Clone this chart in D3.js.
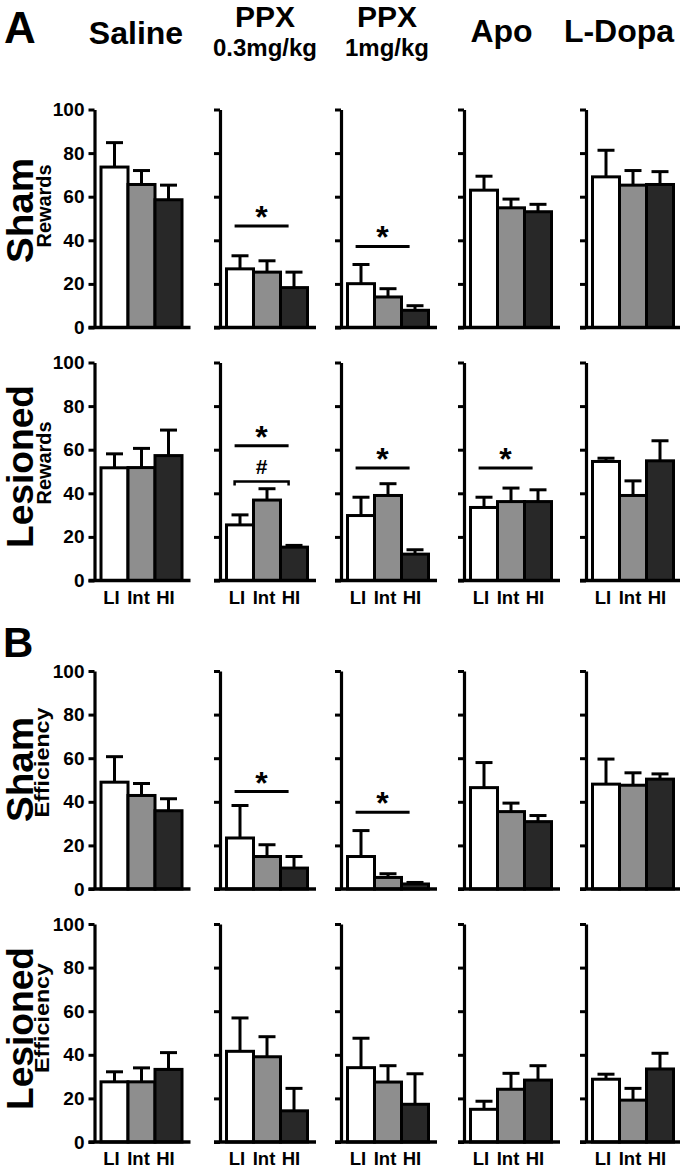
<!DOCTYPE html>
<html><head><meta charset="utf-8">
<script src="https://cdn.jsdelivr.net/npm/d3@7"></script>
<style>
html,body{margin:0;padding:0;background:#fff;}
svg{display:block;font-family:"Liberation Sans",Arial,Helvetica,sans-serif;}
svg text{font-family:"Liberation Sans",Arial,Helvetica,sans-serif;}
</style></head>
<body><div id="chart"></div>
<script>
// ---------- data ----------
const treatments = ["Saline", "PPX", "PPX", "Apo", "L-Dopa"];
const treatmentSub = ["", "0.3mg/kg", "1mg/kg", "", ""];
const levels = ["LI", "Int", "HI"];
const rowGroups = ["Sham", "Lesioned", "Sham", "Lesioned"];
const rowMeasures = ["Rewards", "Rewards", "Efficiency", "Efficiency"];
const yTicks = [0, 20, 40, 60, 80, 100];

// mean values [panel][level]
const shamRewards     = [[73.6,65.6,58.6],[26.9,25.4,18.3],[20.1,14.0,7.9],[63.0,54.9,53.1],[69.1,65.3,65.6]];
const shamRewardsErr  = [[11.2,6.4,6.7],[6.0,5.2,7.1],[8.8,3.8,2.1],[6.4,4.0,3.4],[12.2,6.7,5.9]];
const lesRewards      = [[51.7,51.8,57.3],[25.5,36.9,15.3],[29.8,39.0,12.1],[33.5,36.2,36.2],[54.6,39.0,54.9]];
const lesRewardsErr   = [[6.4,8.8,11.7],[4.6,5.2,0.8],[8.4,5.4,2.0],[4.7,6.2,5.4],[1.5,6.7,9.2]];
const shamEff         = [[49.0,42.9,35.9],[23.4,14.9,9.6],[14.9,5.3,2.3],[46.5,35.5,30.9],[48.1,47.6,50.4]];
const shamEffErr      = [[11.7,5.5,5.5],[14.9,5.4,5.3],[11.9,1.7,0.7],[11.5,3.9,2.8],[11.5,5.7,2.4]];
const lesEff          = [[27.6,27.6,33.3],[41.6,39.1,14.3],[34.1,27.5,17.3],[15.0,24.2,28.4],[28.8,19.2,33.5]];
const lesEffErr       = [[4.6,6.4,7.7],[15.3,9.2,10.3],[13.5,7.5,14.0],[3.7,7.3,6.6],[2.3,5.4,7.2]];

// significance marks: row, panel, level (data units), symbol, kind
const sigRow   = [0, 0, 1, 1, 1, 1, 2, 2];
const sigPanel = [1, 2, 1, 1, 2, 3, 1, 2];
const sigLevel = [46.6, 37.2, 61.8, 45.4, 51.6, 51.6, 44.7, 35.2];
const sigSym   = ["*", "*", "*", "#", "*", "*", "*", "*"];
const sigKind  = ["line","line","line","bracket","line","line","line","line"];

// ---------- layout ----------
const W = 680, H = 1171;
const means = [shamRewards, lesRewards, shamEff, lesEff];
const errs  = [shamRewardsErr, lesRewardsErr, shamEffErr, lesEffErr];
const panelX = [94.5, 220, 341, 464, 586];
const headerX = [136, 265, 387, 501.5, 619];
const rowTop = [109.5, 362.5, 671, 924];
const plotH = 218;
const fills = {LI: "#ffffff", Int: "#8e8e8e", HI: "#282828"};
const FONT = '"Liberation Sans",Arial,Helvetica,sans-serif';

const svg = d3.select("#chart").append("svg").attr("width", W).attr("height", H);

// panel letters
svg.append("text").attr("x", 4).attr("y", 43).style("font-size", "44px").style("font-weight", "bold").text("A");
svg.append("text").attr("x", 3).attr("y", 657).style("font-size", "42px").style("font-weight", "bold").text("B");

// headers
treatments.forEach((t, i) => {
  const hasSub = treatmentSub[i] !== "";
  svg.append("text").attr("x", headerX[i]).attr("y", hasSub ? 27 : (i === 0 ? 44 : 42))
    .attr("text-anchor", "middle").style("font-size", hasSub ? "30px" : "32px").style("font-weight", "bold").text(t);
  if (hasSub) {
    svg.append("text").attr("x", headerX[i]).attr("y", 56)
      .attr("text-anchor", "middle").style("font-size", "24px").style("font-weight", "bold").text(treatmentSub[i]);
  }
});

// row labels
const groupCenter = [210.5, 466.5, 769.5, 1028.5];
const measureCenter = [206, 463, 762.5, 1018];
const groupLen = {Sham: 105, Lesioned: 163};
const measureLen = {Rewards: 83, Efficiency: 110};
rowGroups.forEach((g, r) => {
  svg.append("text")
    .attr("transform", `translate(33,${groupCenter[r]}) rotate(-90)`)
    .attr("text-anchor", "middle").style("font-size", "37px").style("font-weight", "bold")
    .attr("textLength", groupLen[g]).attr("lengthAdjust", "spacingAndGlyphs").text(g);
  svg.append("text")
    .attr("transform", `translate(${rowMeasures[r] === "Rewards" ? 51 : 49},${measureCenter[r]}) rotate(-90)`)
    .attr("text-anchor", "middle").style("font-size", "19.5px").style("font-weight", "bold")
    .attr("textLength", measureLen[rowMeasures[r]]).attr("lengthAdjust", "spacingAndGlyphs").text(rowMeasures[r]);
});

// panels
means.forEach((rowVals, r) => {
  const y = d3.scaleLinear().domain([0, 100]).range([rowTop[r] + plotH, rowTop[r]]);
  rowVals.forEach((vals, p) => {
    const ax = panelX[p];
    const x = d3.scaleBand().domain(levels).range([ax + 6.5, ax + 87.5]).padding(0);
    const g = svg.append("g");

    // y axis
    const axis = d3.axisLeft(y).tickValues(yTicks).tickSize(6).tickSizeOuter(0).tickPadding(4)
      .tickFormat(p === 0 ? d3.format("d") : () => "");
    const ag = g.append("g").attr("transform", `translate(${ax},0)`).call(axis);
    ag.attr("font-family", null).attr("font-size", null);
    ag.select(".domain").attr("stroke", "#000").attr("stroke-width", 3.2);
    ag.selectAll(".tick line").attr("stroke", "#000").attr("stroke-width", 3);
    ag.selectAll(".tick text").attr("fill", "#000")
      .style("font-size", "19px").style("font-weight", "bold").style("font-family", FONT);

    // bars
    const data = levels.map((l, i) => ({l, v: vals[i], e: errs[r][p][i]}));
    g.selectAll(".err").data(data).join("line")
      .attr("x1", d => x(d.l) + x.bandwidth() / 2).attr("x2", d => x(d.l) + x.bandwidth() / 2)
      .attr("y1", d => y(d.v)).attr("y2", d => y(d.v + d.e))
      .attr("stroke", "#000").attr("stroke-width", 3);
    g.selectAll(".cap").data(data).join("line")
      .attr("x1", d => x(d.l) + x.bandwidth() / 2 - 8.5).attr("x2", d => x(d.l) + x.bandwidth() / 2 + 8.5)
      .attr("y1", d => y(d.v + d.e)).attr("y2", d => y(d.v + d.e))
      .attr("stroke", "#000").attr("stroke-width", 3);
    g.selectAll(".bar").data(data).join("rect")
      .attr("x", d => x(d.l)).attr("width", x.bandwidth())
      .attr("y", d => y(d.v)).attr("height", d => y(0) - y(d.v))
      .attr("fill", d => fills[d.l]).attr("stroke", "#000").attr("stroke-width", 3);

    // baseline
    g.append("line").attr("x1", ax - 6).attr("x2", ax + 96).attr("y1", y(0)).attr("y2", y(0))
      .attr("stroke", "#000").attr("stroke-width", 3.5);

    // x labels on lesioned rows
    if (r === 1 || r === 3) {
      g.selectAll(".xl").data(levels).join("text")
        .attr("x", d => x(d) + x.bandwidth() / 2 - 3).attr("y", y(0) + 23)
        .attr("text-anchor", "middle").style("font-size", "18.5px").style("font-weight", "bold").text(d => d);
    }

    // significance
    sigRow.forEach((sr, k) => {
      if (sr !== r || sigPanel[k] !== p) return;
      const x1 = x(levels[0]) + x.bandwidth() * 0.3;
      const x2 = x(levels[2]) + x.bandwidth() * 0.3;
      const ly = y(sigLevel[k]);
      if (sigKind[k] === "line") {
        g.append("line").attr("x1", x1).attr("x2", x2).attr("y1", ly).attr("y2", ly)
          .attr("stroke", "#000").attr("stroke-width", 3);
        g.append("text").attr("x", (x1 + x2) / 2).attr("y", ly + 2)
          .attr("text-anchor", "middle").style("font-size", "32px").style("font-weight", "bold").text(sigSym[k]);
      } else {
        g.append("path").attr("d", `M${x1},${ly + 4}V${ly}H${x2}V${ly + 4}`)
          .attr("fill", "none").attr("stroke", "#000").attr("stroke-width", 2.5);
        g.append("text").attr("x", (x1 + x2) / 2).attr("y", ly - 8)
          .attr("text-anchor", "middle").style("font-size", "21px").style("font-weight", "bold").text(sigSym[k]);
      }
    });
  });
});
</script>
</body></html>
